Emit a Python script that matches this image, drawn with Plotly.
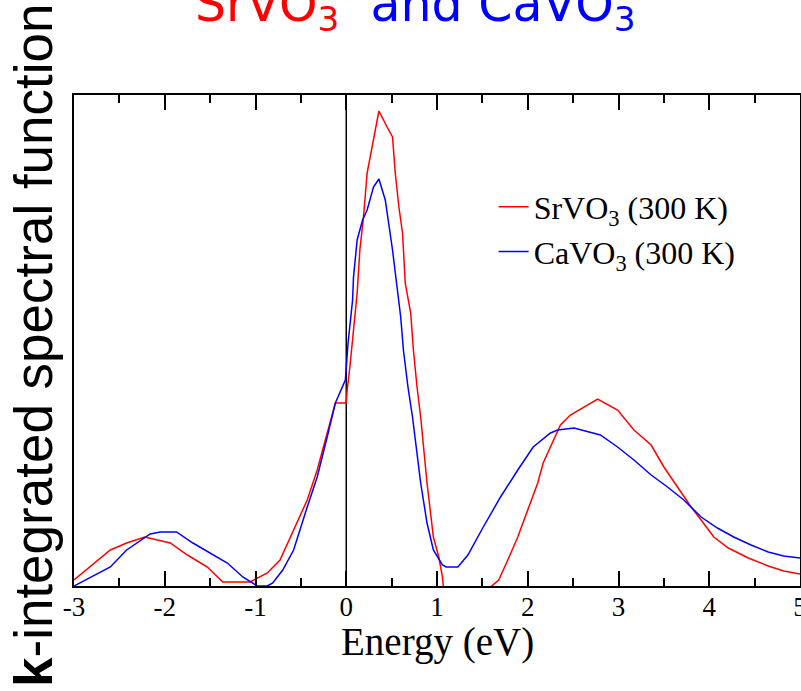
import plotly.graph_objects as go

# Energy grid (eV) and k-integrated spectral function (arb. units)
sr_energy = [-3.00, -2.60, -2.42, -2.22, -1.94, -1.75, -1.53, -1.36, -1.06, -1.00,
             -0.87, -0.73, -0.58, -0.43, -0.32, -0.21, -0.12, 0.00, 0.01, 0.04,
             0.08, 0.12, 0.15, 0.19, 0.23, 0.30, 0.36, 0.45, 0.51, 0.54,
             0.58, 0.62, 0.65, 0.71, 0.74, 0.78, 0.82, 0.89, 0.96, 1.02,
             1.06, 1.10, 1.55, 1.59, 1.68, 1.78, 1.89, 2.00, 2.11, 2.17,
             2.28, 2.36, 2.47, 2.62, 2.77, 2.99, 3.17, 3.36, 3.50, 3.65,
             3.80, 3.91, 4.05, 4.21, 4.43, 4.65, 4.82, 5.00]
sr_spectral = [0.06, 0.36, 0.43, 0.49, 0.43, 0.31, 0.19, 0.04, 0.04, 0.07,
               0.13, 0.26, 0.56, 0.86, 1.16, 1.53, 1.83, 1.83, 1.96, 2.19,
               2.53, 2.93, 3.36, 3.69, 4.13, 4.46, 4.75, 4.59, 4.49, 4.13,
               3.79, 3.53, 3.03, 2.73, 2.36, 1.99, 1.69, 1.03, 0.49, 0.29,
               0.09, -0.30, -0.30, -0.01, 0.06, 0.26, 0.49, 0.76, 1.03, 1.23,
               1.46, 1.61, 1.71, 1.79, 1.87, 1.76, 1.56, 1.41, 1.19, 0.99,
               0.79, 0.66, 0.49, 0.38, 0.28, 0.20, 0.15, 0.12]

ca_energy = [-3.00, -2.60, -2.42, -2.16, -2.05, -1.87, -1.69, -1.50, -1.31, -1.14,
             -0.98, -0.87, -0.81, -0.70, -0.58, -0.43, -0.32, -0.21, -0.12, -0.01,
             0.02, 0.07, 0.08, 0.12, 0.18, 0.23, 0.30, 0.36, 0.43, 0.51,
             0.56, 0.60, 0.63, 0.68, 0.73, 0.82, 0.89, 0.96, 1.06, 1.10,
             1.23, 1.34, 1.51, 1.70, 1.89, 2.06, 2.25, 2.33, 2.51, 2.66,
             2.80, 2.99, 3.17, 3.36, 3.54, 3.72, 3.91, 4.09, 4.27, 4.46,
             4.65, 4.82, 5.00]
ca_spectral = [0.00, 0.19, 0.36, 0.52, 0.54, 0.54, 0.43, 0.33, 0.23, 0.09,
               0.00, 0.00, 0.03, 0.16, 0.36, 0.79, 1.09, 1.49, 1.83, 2.06,
               2.43, 2.86, 3.09, 3.46, 3.66, 3.76, 3.99, 4.07, 3.86, 3.36,
               2.99, 2.69, 2.36, 1.99, 1.69, 1.03, 0.63, 0.36, 0.21, 0.19,
               0.19, 0.31, 0.59, 0.89, 1.16, 1.39, 1.53, 1.56, 1.58, 1.54,
               1.51, 1.39, 1.26, 1.11, 0.99, 0.86, 0.69, 0.58, 0.49, 0.41,
               0.34, 0.30, 0.28]

x_ticks = [-3, -2, -1, 0, 1, 2, 3, 4, 5]

fig = go.Figure()
fig.add_trace(go.Scatter(x=sr_energy, y=sr_spectral, mode="lines",
                         name="SrVO<sub>3</sub> (300 K)", legendgroup="sr",
                         line=dict(color="#ff0000", width=1.5)))
fig.add_trace(go.Scatter(x=ca_energy, y=ca_spectral, mode="lines",
                         name="CaVO<sub>3</sub> (300 K)", legendgroup="ca",
                         line=dict(color="#0000ff", width=1.5)))

# Fermi level marker
fig.add_vline(x=0, line=dict(color="black", width=1.5), layer="below")

serif = "Liberation Serif, Times New Roman, serif"

fig.update_layout(
    width=801, height=691,
    margin=dict(l=74, r=1, t=95, b=105),
    paper_bgcolor="white", plot_bgcolor="white",
    showlegend=True,
    legend=dict(x=0.578, y=0.726, xanchor="left", yanchor="middle",
                font=dict(family=serif, size=32, color="black"),
                bgcolor="rgba(0,0,0,0)", tracegroupgap=0, traceorder="grouped"),
    xaxis=dict(range=[-3, 5], tickvals=x_ticks, ticktext=[str(v) for v in x_ticks],
               ticks="inside", ticklen=15, tickwidth=1.5, tickcolor="black",
               ticklabeloverflow="allow", automargin=False, ticklabelstandoff=-4,
               minor=dict(ticks="inside", ticklen=8, dtick=0.5, tickwidth=1.5, tickcolor="black"),
               showline=True, linecolor="black", linewidth=1.5, mirror="ticks",
               showgrid=False, zeroline=False,
               tickfont=dict(family=serif, size=27, color="black")),
    yaxis=dict(range=[0, 4.91], showticklabels=False, ticks="",
               showline=True, linecolor="black", linewidth=1.5, mirror=True,
               showgrid=False, zeroline=False, automargin=False),
    annotations=[
        dict(text='<span style="color:#ff0000">SrVO<sub>3</sub></span>'
                  '<span style="color:#0000ff">&nbsp;&nbsp;and CaVO<sub>3</sub></span>',
             xref="paper", yref="paper", x=(415 - 74) / 726, y=1.0,
             xanchor="center", yanchor="bottom", yshift=54, showarrow=False,
             font=dict(family="DejaVu Sans", size=49)),
        dict(text="Energy (eV)", xref="paper", yref="paper", x=0.5, y=(586 - 642) / 491,
             xanchor="center", yanchor="middle", showarrow=False, borderpad=0,
             font=dict(family=serif, size=39, color="black")),
        dict(text="<b>k</b>-integrated spectral function",
             xref="paper", yref="paper", x=(33 - 74) / 726, y=(586 - 345) / 491,
             xanchor="center", yanchor="middle", textangle=-90, showarrow=False,
             font=dict(family="Liberation Sans, Arial, sans-serif", size=53, color="black")),
    ],
)

fig.write_html("out.html")
